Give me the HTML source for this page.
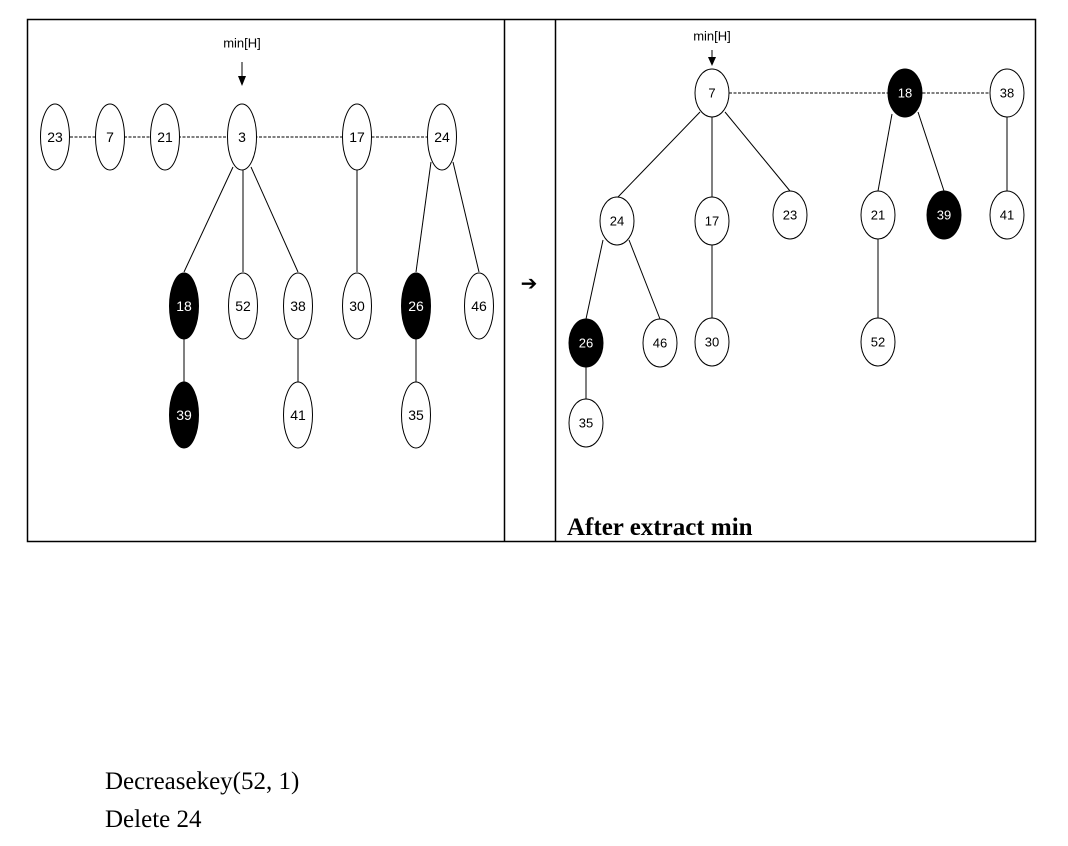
<!DOCTYPE html>
<html><head><style>
body{margin:0;width:1068px;height:846px;background:#fff;overflow:hidden}
svg{position:absolute;left:0;top:0}
.t{font-family:"Liberation Sans",sans-serif;font-size:13px;text-anchor:middle;dominant-baseline:central}
.L{font-size:14px}
.s{font-family:"Liberation Serif",serif;font-size:25px;fill:#000}
</style></head><body>
<svg width="1068" height="846" viewBox="0 0 1068 846">
<rect x="27.5" y="19.5" width="1008" height="522" fill="none" stroke="#000" stroke-width="1.5"/>
<line x1="504.5" y1="19" x2="504.5" y2="541" stroke="#000" stroke-width="1.5"/>
<line x1="555.5" y1="19" x2="555.5" y2="541" stroke="#000" stroke-width="1.5"/>
<g stroke="#000" stroke-width="1" fill="none">
<line x1="70" y1="137" x2="427" y2="137" stroke-dasharray="3,1.5"/>
<line x1="233" y1="167" x2="184" y2="272"/>
<line x1="243" y1="170" x2="243" y2="272"/>
<line x1="251" y1="167" x2="298" y2="272"/>
<line x1="357" y1="170" x2="357" y2="272"/>
<line x1="431" y1="162" x2="416" y2="272"/>
<line x1="453" y1="162" x2="479" y2="272"/>
<line x1="184" y1="339" x2="184" y2="382"/>
<line x1="298" y1="339" x2="298" y2="382"/>
<line x1="416" y1="339" x2="416" y2="382"/>
<line x1="729" y1="93" x2="1007" y2="93" stroke-dasharray="3,1.5"/>
<line x1="700" y1="112" x2="618" y2="197"/>
<line x1="712" y1="117" x2="712" y2="197"/>
<line x1="725" y1="112" x2="790" y2="191"/>
<line x1="892" y1="114" x2="878" y2="191"/>
<line x1="918" y1="112" x2="944" y2="191"/>
<line x1="1007" y1="117" x2="1007" y2="191"/>
<line x1="603" y1="240" x2="586" y2="319"/>
<line x1="629" y1="240" x2="660" y2="319"/>
<line x1="712" y1="245" x2="712" y2="318"/>
<line x1="878" y1="239" x2="878" y2="318"/>
<line x1="586" y1="367" x2="586" y2="399"/>
<line x1="242" y1="62" x2="242" y2="78"/>
<line x1="712" y1="50" x2="712" y2="58"/>
</g>
<polygon points="238,76 246,76 242,86" fill="#000"/>
<polygon points="708,57 716,57 712,66" fill="#000"/>
<g stroke="#000" stroke-width="1">
<ellipse cx="55" cy="137" rx="14.5" ry="33" fill="#fff"/>
<ellipse cx="110" cy="137" rx="14.5" ry="33" fill="#fff"/>
<ellipse cx="165" cy="137" rx="14.5" ry="33" fill="#fff"/>
<ellipse cx="242" cy="137" rx="14.5" ry="33" fill="#fff"/>
<ellipse cx="357" cy="137" rx="14.5" ry="33" fill="#fff"/>
<ellipse cx="442" cy="137" rx="14.5" ry="33" fill="#fff"/>
<ellipse cx="184" cy="306" rx="14.5" ry="33" fill="#000"/>
<ellipse cx="243" cy="306" rx="14.5" ry="33" fill="#fff"/>
<ellipse cx="298" cy="306" rx="14.5" ry="33" fill="#fff"/>
<ellipse cx="357" cy="306" rx="14.5" ry="33" fill="#fff"/>
<ellipse cx="416" cy="306" rx="14.5" ry="33" fill="#000"/>
<ellipse cx="479" cy="306" rx="14.5" ry="33" fill="#fff"/>
<ellipse cx="184" cy="415" rx="14.5" ry="33" fill="#000"/>
<ellipse cx="298" cy="415" rx="14.5" ry="33" fill="#fff"/>
<ellipse cx="416" cy="415" rx="14.5" ry="33" fill="#fff"/>
<ellipse cx="712" cy="93" rx="17" ry="24" fill="#fff"/>
<ellipse cx="905" cy="93" rx="17" ry="24" fill="#000"/>
<ellipse cx="1007" cy="93" rx="17" ry="24" fill="#fff"/>
<ellipse cx="617" cy="221" rx="17" ry="24" fill="#fff"/>
<ellipse cx="712" cy="221" rx="17" ry="24" fill="#fff"/>
<ellipse cx="790" cy="215" rx="17" ry="24" fill="#fff"/>
<ellipse cx="878" cy="215" rx="17" ry="24" fill="#fff"/>
<ellipse cx="944" cy="215" rx="17" ry="24" fill="#000"/>
<ellipse cx="1007" cy="215" rx="17" ry="24" fill="#fff"/>
<ellipse cx="586" cy="343" rx="17" ry="24" fill="#000"/>
<ellipse cx="660" cy="343" rx="17" ry="24" fill="#fff"/>
<ellipse cx="712" cy="342" rx="17" ry="24" fill="#fff"/>
<ellipse cx="878" cy="342" rx="17" ry="24" fill="#fff"/>
<ellipse cx="586" cy="423" rx="17" ry="24" fill="#fff"/>
</g>
<g fill="#000">
<text class="t" x="242" y="43">min[H]</text>
<text class="t" x="712" y="36">min[H]</text>
<text class="t L" x="55" y="137">23</text><text class="t L" x="110" y="137">7</text>
<text class="t L" x="165" y="137">21</text><text class="t L" x="242" y="137">3</text>
<text class="t L" x="357" y="137">17</text><text class="t L" x="442" y="137">24</text>
<text class="t L" x="184" y="306" fill="#fff">18</text><text class="t L" x="243" y="306">52</text>
<text class="t L" x="298" y="306">38</text><text class="t L" x="357" y="306">30</text>
<text class="t L" x="416" y="306" fill="#fff">26</text><text class="t L" x="479" y="306">46</text>
<text class="t L" x="184" y="415" fill="#fff">39</text><text class="t L" x="298" y="415">41</text>
<text class="t L" x="416" y="415">35</text>
<text class="t" x="712" y="93">7</text><text class="t" x="905" y="93" fill="#fff">18</text>
<text class="t" x="1007" y="93">38</text>
<text class="t" x="617" y="221">24</text><text class="t" x="712" y="221">17</text>
<text class="t" x="790" y="215">23</text><text class="t" x="878" y="215">21</text>
<text class="t" x="944" y="215" fill="#fff">39</text><text class="t" x="1007" y="215">41</text>
<text class="t" x="586" y="343" fill="#fff">26</text><text class="t" x="660" y="343">46</text>
<text class="t" x="712" y="342">30</text><text class="t" x="878" y="342">52</text>
<text class="t" x="586" y="423">35</text>
</g>
<text x="529" y="290" font-family="DejaVu Sans,sans-serif" font-size="20" text-anchor="middle">➔</text>
<text class="s" x="567" y="535" font-weight="bold">After extract min</text>
<text class="s" x="105" y="789">Decreasekey(52, 1)</text>
<text class="s" x="105" y="827">Delete 24</text>
</svg>
</body></html>
